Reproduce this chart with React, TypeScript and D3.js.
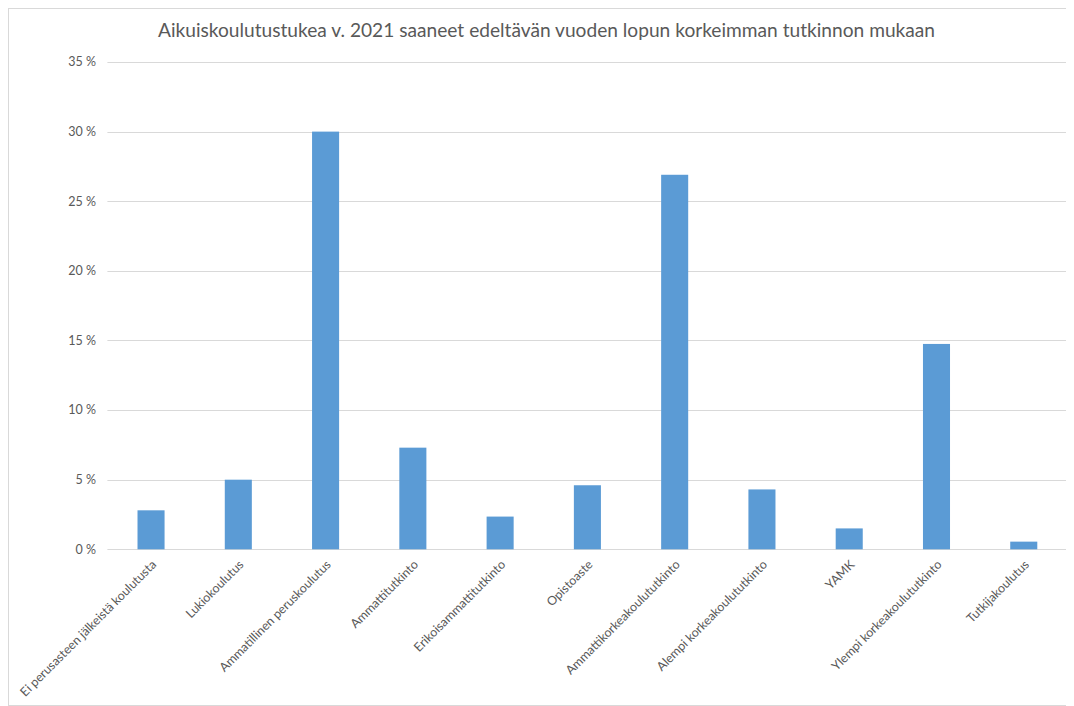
import React from "react";
import * as d3 from "d3";

const categories = [
  "Ei perusasteen jälkeistä koulutusta",
  "Lukiokoulutus",
  "Ammatillinen peruskoulutus",
  "Ammattitutkinto",
  "Erikoisammattitutkinto",
  "Opistoaste",
  "Ammattikorkeakoulututkinto",
  "Alempi korkeakoulututkinto",
  "YAMK",
  "Ylempi korkeakoulututkinto",
  "Tutkijakoulutus",
];
const values = [2.8, 5.0, 30.0, 7.3, 2.35, 4.6, 26.9, 4.3, 1.5, 14.75, 0.55];
const yTicks = [0, 5, 10, 15, 20, 25, 30, 35];
const title = "Aikuiskoulutustukea v. 2021 saaneet edeltävän vuoden lopun korkeimman tutkinnon mukaan";

const W = 1066;
const H = 698;
const FONT = "Lato, sans-serif";

export default function App() {
  const x = d3.scaleBand<string>().domain(categories).range([99.4, 1059.4]).paddingInner(0.69).paddingOuter(0.345);
  const y = d3.scaleLinear().domain([0, 35]).range([541.3, 54]);
  return (
    <svg width={W} height={H} style={{ display: "block", fontFamily: FONT }}>
      <rect x={0.5} y={0.5} width={W + 10} height={H - 1} fill="#fff" stroke="#d9d9d9" />
      <text x={150} y={29} fontSize={19.5} fill="#595959" textLength={777} lengthAdjust="spacingAndGlyphs">{title}</text>
      {yTicks.map((t) => (
        <g key={t}>
          <line x1={99.4} x2={1059.4} y1={Math.round(y(t)) + 0.5} y2={Math.round(y(t)) + 0.5} stroke="#d9d9d9" strokeWidth={1} />
          <text x={88} y={y(t)} dy="0.35em" textAnchor="end" fontSize={12.5} fill="#595959">{`${t} %`}</text>
        </g>
      ))}
      {categories.map((c, i) => (
        <rect key={c} x={x(c)} y={y(values[i])} width={x.bandwidth()} height={y(0) - y(values[i])} fill="#5b9bd5" />
      ))}
      {categories.map((c) => {
        const cx = (x(c) as number) + x.bandwidth() / 2 + 3;
        const cy = y(0) + 13;
        return (
          <text key={c} transform={`translate(${cx},${cy}) rotate(-45)`} textAnchor="end" dy="0.35em" fontSize={12.4} fill="#595959">{c}</text>
        );
      })}
    </svg>
  );
}
